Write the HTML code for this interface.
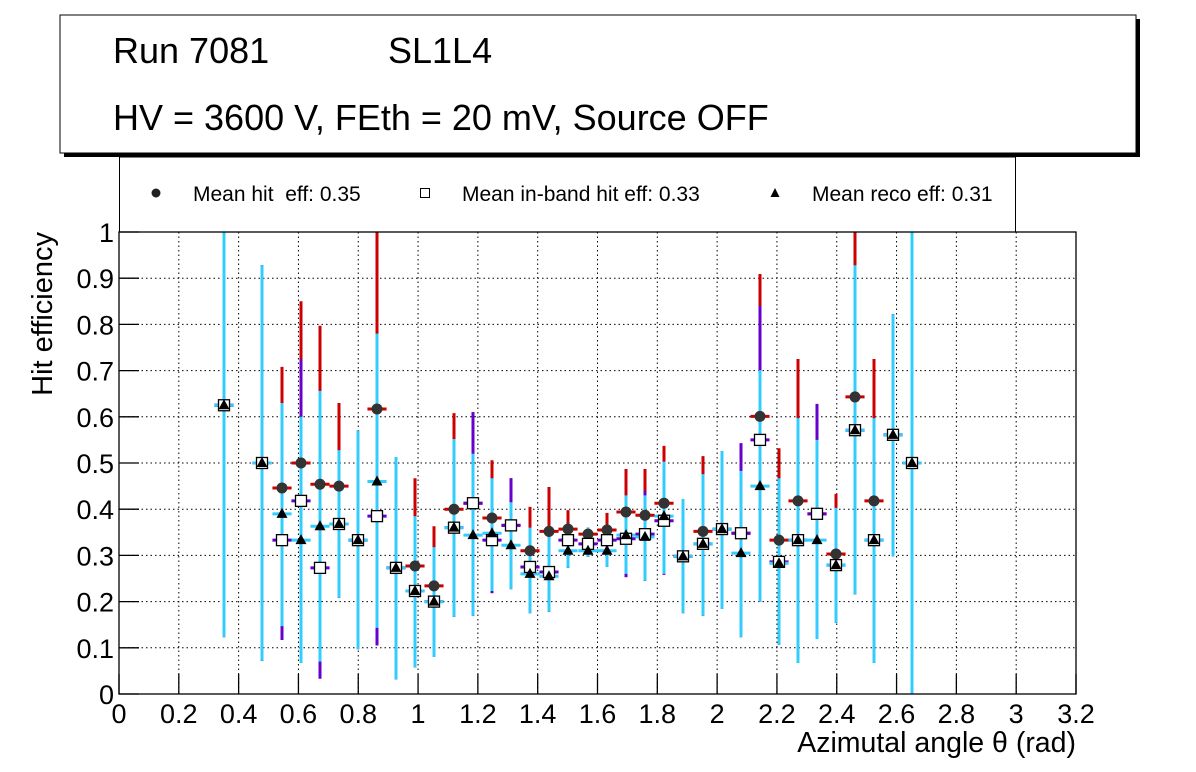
<!DOCTYPE html>
<html><head><meta charset="utf-8"><style>
body{margin:0;background:#fff;}
svg{display:block;font-family:"Liberation Sans",Arial,sans-serif;}
text{white-space:pre;}
</style></head><body>
<svg id="chart" width="1196" height="772" viewBox="0 0 1196 772">
<rect x="0" y="0" width="1196" height="772" fill="#fff"/>
<g>
<rect x="64" y="19" width="1076" height="138" fill="#000"/>
<rect x="60" y="15" width="1076" height="138" fill="#fff" stroke="#000" stroke-width="1"/>
<text x="113" y="63" font-size="36">Run 7081</text>
<text x="388" y="63" font-size="36">SL1L4</text>
<text x="113" y="130" font-size="36">HV = 3600 V, FEth = 20 mV, Source OFF</text>
</g>
<g>
<rect x="119.5" y="157" width="896" height="75" fill="#fff" stroke="#000" stroke-width="1"/>
<g><circle cx="156" cy="193" r="4.5" fill="#222"/><text x="193" y="201" font-size="21" xml:space="preserve">Mean hit  eff: 0.35</text></g>
<g><rect x="420.5" y="188.5" width="9" height="9" fill="#fff" stroke="#000"/><text x="462" y="201" font-size="21">Mean in-band hit eff: 0.33</text></g>
<g><polygon points="775,188 779.5,197 770.5,197" fill="#000"/><text x="812" y="201" font-size="21">Mean reco eff: 0.31</text></g>
</g>
<g id="grid"></g>
<g id="marks"></g>
<g id="axes"></g>
<text x="52" y="232" font-size="29" text-anchor="end" transform="rotate(-90 52 232)">Hit efficiency</text>
<text x="1076" y="752" font-size="28.5" text-anchor="end">Azimutal angle θ (rad)</text>
</svg>
<script>
const xPix = [224,262,282,301,320,339,358,377,396,415,434,454,473,492,511,530,549,568,588,607,626,645,664,683,703,722,741,760,779,798,817,836,855,874,893,912];
const hit    = [.625,.5,.446,.5,.454,.45,.333,.617,.273,.277,.234,.4,.413,.381,.365,.31,.352,.357,.346,.355,.394,.387,.413,.298,.352,.357,.348,.601,.333,.418,.39,.303,.643,.418,.561,.5];
const hitHi  = [1,.928,.708,.85,.797,.63,.57,1,.513,.467,.363,.608,.61,.506,.467,.405,.448,.398,.36,.392,.487,.487,.537,.422,.515,.526,.483,.909,.532,.725,.55,.433,1,.725,.822,1];
const hitLo  = [.123,.072,.147,.067,.07,.208,.097,.143,.032,.058,.08,.167,.169,.223,.227,.175,.178,.273,.297,.275,.253,.245,.258,.175,.169,.184,.123,.2,.106,.067,.119,.154,.216,.067,.298,0];
const inb    = [.625,.5,.333,.418,.273,.368,.333,.385,.273,.223,.2,.36,.413,.333,.365,.275,.264,.333,.325,.333,.336,.346,.375,.298,.325,.357,.348,.55,.286,.333,.39,.279,.571,.333,.561,.5];
const inbHi  = [1,.928,.63,.725,.656,.528,.57,.78,.513,.385,.318,.552,.61,.467,.467,.36,.34,.37,.36,.36,.43,.44,.503,.422,.476,.526,.543,.84,.467,.597,.628,.403,.928,.597,.822,1];
const inbLo  = [.123,.072,.117,.067,.033,.208,.097,.105,.032,.058,.08,.167,.169,.218,.227,.175,.178,.273,.297,.275,.253,.245,.258,.175,.169,.184,.123,.2,.106,.067,.119,.154,.216,.067,.298,0];
const reco   = [.625,.5,.39,.333,.363,.368,.333,.46,.273,.223,.2,.36,.344,.348,.322,.26,.255,.31,.31,.31,.344,.34,.385,.298,.325,.357,.305,.45,.283,.333,.333,.279,.571,.333,.561,.5];
const recoHi = [1,.928,.63,.6,.656,.528,.57,.78,.513,.385,.318,.552,.52,.467,.415,.36,.34,.35,.36,.36,.43,.43,.503,.422,.476,.526,.483,.701,.467,.597,.55,.403,.928,.597,.822,1];
const recoLo = [.123,.072,.147,.067,.07,.208,.097,.143,.032,.058,.08,.167,.169,.223,.227,.175,.178,.273,.297,.275,.26,.245,.26,.175,.169,.184,.123,.2,.106,.067,.119,.154,.216,.067,.298,0];
const xTicks = ["0","0.2","0.4","0.6","0.8","1","1.2","1.4","1.6","1.8","2","2.2","2.4","2.6","2.8","3","3.2"];
const yTicks = ["0","0.1","0.2","0.3","0.4","0.5","0.6","0.7","0.8","0.9","1"];

const X0=119,X1=1076,Y0=694,Y1=232;
const xs = v => X0 + (v/3.2)*(X1-X0);
const ys = v => Y0 - v*(Y0-Y1);
const xData = xPix.map(p => (p-X0)/(X1-X0)*3.2);
const halfW = 0.032;
const NS='http://www.w3.org/2000/svg';
function mk(parent,tag,attrs){const e=document.createElementNS(NS,tag);for(const k in attrs)e.setAttribute(k,attrs[k]);parent.appendChild(e);return e;}
const grid=document.getElementById('grid'),marks=document.getElementById('marks'),axes=document.getElementById('axes');

xTicks.forEach((t,i)=>{const v=parseFloat(t);const x=xs(v);
 if(i>0&&i<xTicks.length-1){const g=mk(grid,'line',{x1:x,x2:x,y1:Y1,y2:Y0,stroke:'#000','stroke-dasharray':'1.5,3','stroke-width':1});
 
 }
 const tk=mk(axes,'line',{x1:x,x2:x,y1:Y0,y2:Y0-20,stroke:'#000','stroke-width':1.3});
 
 
 const lb=mk(axes,'text',{x:x,y:723,'font-size':27,'text-anchor':'middle'});lb.textContent=t;
 
 
});
yTicks.forEach((t,i)=>{const v=parseFloat(t);const y=ys(v);
 if(i>0&&i<yTicks.length-1){const g=mk(grid,'line',{x1:X0,x2:X1,y1:y,y2:y,stroke:'#000','stroke-dasharray':'1.5,3','stroke-width':1});
 
 }
 const tk=mk(axes,'line',{x1:X0,x2:X0+20,y1:y,y2:y,stroke:'#000','stroke-width':1.3});
 
 
 const lb=mk(axes,'text',{x:114,y:y+10,'font-size':27,'text-anchor':'end'});lb.textContent=t;
 
 
});
const fr=mk(axes,'rect',{x:X0,y:Y1,width:X1-X0,height:Y0-Y1,fill:'none',stroke:'#000','stroke-width':1.3});



function errs(vals,hi,lo,color,name){
 vals.forEach((v,i)=>{const x=xs(xData[i]);
  const l=mk(marks,'line',{x1:x,x2:x,y1:ys(hi[i]),y2:ys(lo[i]),stroke:color,'stroke-width':3});
  
  
  const h=mk(marks,'line',{x1:xs(xData[i]-halfW),x2:xs(xData[i]+halfW),y1:ys(v),y2:ys(v),stroke:color,'stroke-width':3});
  
  
 });
}
errs(hit,hitHi,hitLo,'#cc0000','hit');
errs(inb,inbHi,inbLo,'#6600cc','inband');
errs(reco,recoHi,recoLo,'#33ccff','reco');
hit.forEach((v,i)=>{const c=mk(marks,'circle',{cx:xs(xData[i]),cy:ys(v),r:5.5,fill:'#333'});
 
 });
inb.forEach((v,i)=>{const r=mk(marks,'rect',{x:xs(xData[i])-5.5,y:ys(v)-5.5,width:11,height:11,fill:'#fff',stroke:'#000','stroke-width':1.3});
 
 });
reco.forEach((v,i)=>{const x=xs(xData[i]),y=ys(v);const p=mk(marks,'polygon',{points:`${x},${y-6} ${x+5.5},${y+4} ${x-5.5},${y+4}`,fill:'#000'});
 
 });
</script>
</body></html>
